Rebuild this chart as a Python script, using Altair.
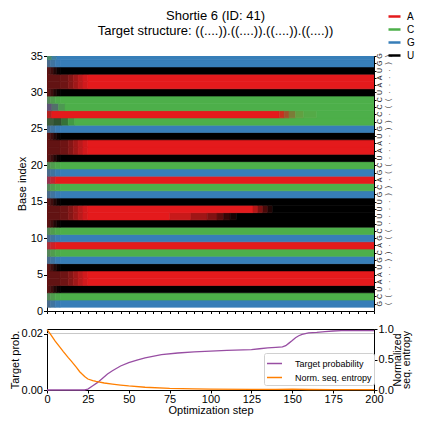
import altair as alt
import pandas as pd

FONT = "Liberation Sans"

# ---------------- data ----------------
main_title = "Shortie 6 (ID: 41)"
sub_title = "Target structure: ((....)).((....)).((....)).((....))"
bases = ["A", "C", "G", "U"]
base_colors = ["#e41a1c", "#4daf4a", "#377eb8", "#000000"]
sequence = list("GCUAAUGCAGCUUUUGCAGCUAAUGCCCCUAAUGG")     # base index 1..35
structure = list("((....)).((....)).((....)).((....))")

# colour history of a row: (step where this colour ends, colour)
profile_A = [(8, "#621313"), (13, "#6e1414"), (16, "#851616"), (19, "#a01818"),
             (22, "#bb1a1b"), (25, "#d21a1c"), (200, "#e41a1c")]
profile_U = [(2, "#5a1414"), (4, "#3e0d0d"), (6, "#220707"), (8, "#0c0202"), (200, "#000000")]
profile_G = [(2, "#4a6a8a"), (5, "#40749f"), (8, "#3a7bb2"), (200, "#377eb8")]
profile_C = [(2, "#56865a"), (5, "#509c4e"), (8, "#4ea94b"), (200, "#4daf4a")]
base_profiles = {"A": profile_A, "U": profile_U, "G": profile_G, "C": profile_C}

special_profiles = {
    9: [(2, "#a8303a"), (5, "#cc2228"), (200, "#e41a1c")],
    13: [(8, "#621313"), (13, "#6e1414"), (16, "#851616"), (19, "#a01818"), (22, "#bb1a1b"),
         (25, "#d21a1c"), (75, "#e41a1c"), (88, "#c81a1a"), (98, "#a01616"), (104, "#801212"),
         (108, "#5a0c0c"), (112, "#340707"), (116, "#160303"), (200, "#000000")],
    14: [(8, "#621313"), (13, "#6e1414"), (16, "#851616"), (19, "#a01818"), (22, "#bb1a1b"),
         (25, "#d21a1c"), (126, "#e41a1c"), (129, "#b81616"), (132, "#801010"), (135, "#4a0909"),
         (138, "#1e0404"), (200, "#000000")],
    18: [(2, "#963450"), (5, "#c02634"), (200, "#e41a1c")],
    26: [(4, "#3d5d3d"), (9, "#2f5230"), (13, "#357238"), (17, "#429a44"), (200, "#4daf4a")],
    27: [(3, "#b42222"), (142, "#e41a1c"), (145, "#c8301e"), (148, "#a0522c"), (152, "#7c7c38"),
         (157, "#62a042"), (165, "#54aa47"), (200, "#4daf4a")],
    28: [(3, "#5e5476"), (7, "#52706a"), (11, "#4d9852"), (200, "#4daf4a")],
    35: [(3, "#4a8a6e"), (6, "#3f80a0"), (200, "#377eb8")],
}

prob_steps = [0, 10, 20, 23, 25, 28, 31, 34, 37, 40, 45, 50, 55, 60, 70, 80, 90, 100, 110, 120,
              125, 130, 135, 140, 144, 146, 148, 150, 152, 154, 156, 158, 160, 165, 170, 175, 180, 190, 200]
prob_vals = [0, 0, 0, 0, 0.0003, 0.0015, 0.0027, 0.0042, 0.0057, 0.0068, 0.0085, 0.0097, 0.0106,
             0.0114, 0.0125, 0.0131, 0.0135, 0.0138, 0.0140, 0.0142, 0.0143, 0.0146, 0.0149, 0.0151,
             0.0153, 0.0157, 0.0166, 0.0175, 0.0185, 0.0192, 0.0197, 0.0200, 0.0202, 0.0204, 0.0207,
             0.0209, 0.0210, 0.0210, 0.0210]
ent_steps = [0, 2, 5, 8, 10, 13, 15, 18, 20, 23, 25, 28, 30, 35, 40, 45, 50, 60, 75, 90,
             100, 125, 140, 150, 160, 175, 200]
ent_vals = [0.99, 0.92, 0.80, 0.70, 0.63, 0.53, 0.47, 0.37, 0.30, 0.22, 0.18, 0.155, 0.14, 0.115,
            0.097, 0.08, 0.066, 0.045, 0.026, 0.018, 0.015, 0.01, 0.01, 0.015, 0.008, 0.005, 0.005]
ref_level = [0.02]
series_names = ["Target probability", "Norm. seq. entropy"]
series_colors = ["#984ea3", "#ff7f00"]

# ---------------- tables ----------------
seg_rows = []
for i, b in enumerate(sequence, start=1):
    prof = special_profiles.get(i, base_profiles[b])
    start = 0
    for end, col in prof:
        seg_rows.append({"idx": i, "x0": start, "x1": end, "lo": i - 0.5, "hi": i + 0.5, "col": col})
        start = end
seg_df = pd.DataFrame(seg_rows)
label_df = pd.DataFrame({"idx": list(range(1, len(sequence) + 1)), "base": sequence, "struct": structure})
legend_df = pd.DataFrame({"base": bases})
prob_df = pd.DataFrame({"step": prob_steps, "val": prob_vals, "series": series_names[0]})
ent_df = pd.DataFrame({"step": ent_steps, "val": ent_vals, "series": series_names[1]})
ref_df = pd.DataFrame({"ref": ref_level})

W = 327
H_TOP = 255
H_BOT = 61

# ---------------- top panel ----------------
xs = alt.Scale(domain=[0, 200], nice=False, zero=False)
ys = alt.Scale(domain=[0, 35], nice=False, zero=False)

heat = alt.Chart(seg_df).mark_rect(clip=True, strokeWidth=0.6).encode(
    x=alt.X("x0:Q", scale=xs,
            axis=alt.Axis(values=list(range(0, 201, 5)), labels=False, tickSize=2.5,
                          domain=False, grid=False, title=None)),
    x2="x1:Q",
    y=alt.Y("lo:Q", scale=ys,
            axis=alt.Axis(values=list(range(0, 36, 5)), title="Base index", grid=False,
                          domain=False, tickSize=3.5, labelPadding=1, titlePadding=3)),
    y2="hi:Q",
    fill=alt.Fill("col:N", scale=None),
    stroke=alt.Stroke("col:N", scale=None),
)

letters = alt.Chart(label_df).mark_text(angle=270, fontSize=7, font=FONT, color="#222222").encode(
    y=alt.Y("idx:Q", scale=ys,
            axis=alt.Axis(orient="right", values=list(range(1, 36)), labels=False, tickSize=2,
                          domain=False, grid=False, title=None)),
    x=alt.value(W + 5.5),
    text="base:N",
)
structs = alt.Chart(label_df).mark_text(angle=270, fontSize=7, font=FONT, color="#222222").encode(
    y=alt.Y("idx:Q", scale=ys, axis=None),
    x=alt.value(W + 13.5),
    text="struct:N",
)

acgu = alt.Chart(legend_df).mark_rule(opacity=0).encode(
    y=alt.value(0),
    color=alt.Color("base:N", scale=alt.Scale(domain=bases, range=base_colors),
                    legend=alt.Legend(orient="none", legendX=340, legendY=-47, title=None,
                                      symbolType="stroke", symbolStrokeWidth=2.5, symbolSize=144,
                                      symbolOpacity=1, labelFontSize=10, labelOffset=5,
                                      rowPadding=0, padding=0, labelFont=FONT)),
)

top = alt.layer(heat, letters, structs, acgu).resolve_axis(y="independent").properties(
    width=W, height=H_TOP,
    title=alt.TitleParams(text=[main_title, sub_title], fontSize=13, font=FONT,
                          fontWeight="normal", anchor="middle", offset=-28.5, dx=5,
                          lineHeight=15, color="black"),
)

# ---------------- bottom panel ----------------
bx = alt.X("step:Q", scale=xs,
           axis=alt.Axis(values=list(range(0, 201, 25)), title="Optimization step", tickSize=3,
                         labelPadding=0, titlePadding=0, grid=False, domain=False))
py_scale = alt.Scale(domain=[0, 0.0216], nice=False, zero=False)
py_axis = alt.Axis(values=[0, 0.02], format=".2f", title="Target prob.", grid=False,
                   domain=False, tickSize=3.5, labelPadding=1, titlePadding=1, orient="left")
ser_scale = alt.Scale(domain=series_names, range=series_colors)
ser_legend = alt.Legend(orient="none", legendX=217, legendY=H_BOT - 37, title=None,
                        symbolType="stroke", symbolStrokeWidth=1.5, symbolSize=225,
                        labelFontSize=9, labelOffset=12, rowPadding=0, padding=2,
                        fillColor="white", strokeColor="#d0d0d0", cornerRadius=2, labelFont=FONT)

refrule = alt.Chart(ref_df).mark_rule(color="#c8c8c8", strokeWidth=1).encode(
    y=alt.Y("ref:Q", scale=py_scale, axis=py_axis))
pline = alt.Chart(prob_df).mark_line(strokeWidth=1.3).encode(
    x=bx, y=alt.Y("val:Q", scale=py_scale, axis=py_axis),
    color=alt.Color("series:N", scale=ser_scale, legend=ser_legend))
eline = alt.Chart(ent_df).mark_line(strokeWidth=1.3).encode(
    x=bx,
    y=alt.Y("val:Q", scale=alt.Scale(domain=[0, 1], nice=False),
            axis=alt.Axis(orient="right", values=[0, 0.5, 1], format=".1f",
                          title=["Normalized", "seq. entropy"], titleAngle=270,
                          titleFontSize=10.5, titleLineHeight=9, grid=False, domain=False,
                          tickSize=3, labelPadding=1, titlePadding=0)),
    color=alt.Color("series:N", scale=ser_scale, legend=ser_legend))

bottom = alt.layer(alt.layer(refrule, pline), eline).resolve_scale(y="independent").properties(
    width=W, height=H_BOT)

chart = alt.vconcat(top, bottom, spacing=18, bounds="flush").resolve_scale(
    color="independent").configure_view(stroke="black", strokeWidth=1).configure_axis(
    labelFont=FONT, titleFont=FONT, labelFontSize=11, titleFontSize=11, labelColor="black",
    titleColor="black", tickColor="black", titleFontWeight="normal", labelFlush=False).configure_legend(
    labelColor="black").properties(padding={"left": 0, "top": 0, "right": 0, "bottom": 0})

chart.save("out.html", embed_options={"renderer": "svg", "actions": False})
